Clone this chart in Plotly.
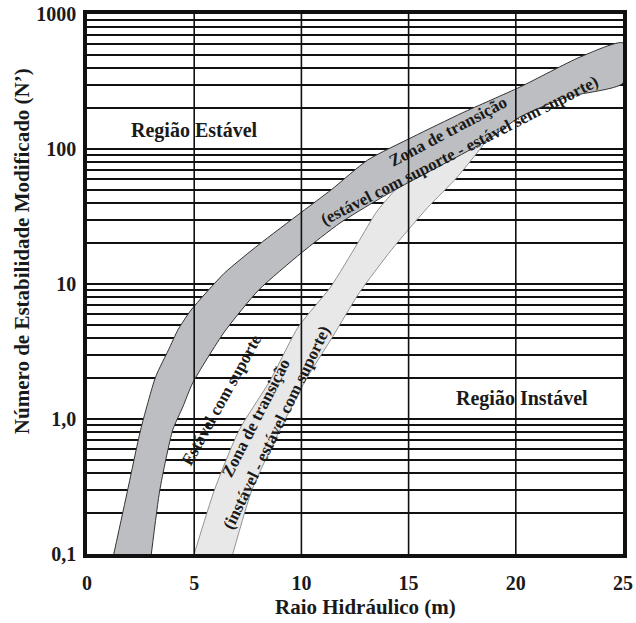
import math
import plotly.graph_objects as go

# Eixos
x_ticks = [0, 5, 10, 15, 20, 25]
y_ticks = [0.1, 1, 10, 100, 1000]
y_ticktext = ["0,1", "1,0", "10", "100", "1000"]
y_minor = [d * m for d in [0.1, 1, 10, 100] for m in range(2, 10)]

# Zona de transição (estável com suporte - estável sem suporte): limite superior e inferior
dark_upper_x = [1.25, 1.9, 2.5, 3.2, 3.8, 4.25, 4.85, 6.4, 8.0, 10.0, 11.4, 13.1, 15.2, 17.5, 20.2, 23.0, 25.0]
dark_upper_y = [0.1, 0.3, 0.83, 2.05, 3.25, 4.6, 6.4, 12, 19.5, 34, 50, 83, 123, 185, 288, 480, 610]
dark_lower_x = [3.0, 3.4, 4.0, 4.47, 4.93, 6.4, 8.0, 10.0, 11.8, 13.55, 14.95, 16.8, 18.7, 20.2, 22.4, 25.0]
dark_lower_y = [0.1, 0.3, 0.83, 1.23, 1.85, 4.4, 9.0, 17, 28.3, 42, 56, 80, 117, 173, 243, 308]

# Zona de transição (instável - estável com suporte)
light_left_x = [5.0, 5.95, 7.1, 8.55, 9.85, 11.36, 12.62, 13.55, 15.0]
light_left_y = [0.1, 0.3, 0.83, 1.94, 4.8, 9.5, 20, 35, 62]
light_right_x = [6.8, 7.7, 9.0, 10.2, 11.45, 12.7, 14.2, 15.9, 17.27, 18.8]
light_right_y = [0.1, 0.3, 0.83, 1.94, 4.05, 8.6, 17.9, 37, 62, 130]

FONT = "Liberation Serif"
INK = "#1a1a1a"

fig = go.Figure()

# faixa clara (por baixo)
fig.add_trace(go.Scatter(
    x=light_left_x + light_right_x[::-1],
    y=light_left_y + light_right_y[::-1],
    fill="toself", fillcolor="#e8e8e8", mode="lines",
    line=dict(color="#7a7a7a", width=0.8, shape="spline", smoothing=0.6),
    hoverinfo="skip", showlegend=False,
))

# faixa escura
fig.add_trace(go.Scatter(
    x=dark_upper_x + dark_lower_x[::-1],
    y=dark_upper_y + dark_lower_y[::-1],
    fill="toself", fillcolor="#bdbec1", mode="lines",
    line=dict(color="#333333", width=1, shape="spline", smoothing=0.6),
    hoverinfo="skip", showlegend=False,
))

# linhas verticais por cima das faixas
for xv in x_ticks[1:-1]:
    fig.add_shape(type="line", x0=xv, x1=xv, y0=0, y1=1, xref="x", yref="paper",
                  line=dict(color="#111111", width=1.6), layer="above")


def ann(text, x, y, angle=0, size=17):
    fig.add_annotation(text=text, x=x, y=math.log10(y), xref="x", yref="y",
                       showarrow=False, textangle=angle,
                       font=dict(family=FONT, size=size, color=INK, weight="bold"))


ann("Região Estável", 5.0, 138, size=20)
ann("Região Instável", 20.3, 1.43, size=20)
ann("Estável com suporte", 6.25, 1.38, angle=-61)
ann("Zona de transição", 7.9, 1.02, angle=-63)
ann("(instável - estável com suporte)", 8.85, 0.86, angle=-64)
ann("Zona de transição", 16.85, 134, angle=-28)
ann("(estável com suporte - estável sem suporte)", 17.37, 98, angle=-27)

# títulos dos eixos
fig.add_annotation(text="Raio Hidráulico (m)", x=0.519, y=-0.098, xref="paper", yref="paper",
                   xanchor="center", yanchor="middle", showarrow=False,
                   font=dict(family=FONT, size=21, color=INK, weight="bold"))
fig.add_annotation(text="Número de Estabilidade Modificado (N’)", x=-0.121, y=0.561,
                   xref="paper", yref="paper", xanchor="center", yanchor="middle",
                   showarrow=False, textangle=-90,
                   font=dict(family=FONT, size=21, color=INK, weight="bold"))

fig.update_layout(
    width=636, height=623,
    margin=dict(l=87, r=13, t=14, b=69),
    paper_bgcolor="white", plot_bgcolor="white",
    showlegend=False,
    xaxis=dict(
        range=[0, 25], tickvals=x_ticks, showgrid=False, zeroline=False,
        showline=True, mirror=True, linecolor="#111111", linewidth=3.5,
        ticks="", ticklabelstandoff=8, automargin=False,
        tickfont=dict(family=FONT, size=20, color=INK, weight="bold"),
    ),
    yaxis=dict(
        type="log", range=[-1, 3], tickvals=y_ticks, ticktext=y_ticktext,
        showgrid=True, gridcolor="#111111", gridwidth=2.4, zeroline=False,
        showline=True, mirror=True, linecolor="#111111", linewidth=3.5,
        ticks="", ticklabelstandoff=3, automargin=False,
        tickfont=dict(family=FONT, size=20, color=INK, weight="bold"),
        minor=dict(tickvals=y_minor, showgrid=True, gridcolor="#111111", gridwidth=1.9, ticks=""),
    ),
)

fig.write_html("out.html", config={"displayModeBar": False},
               post_script="document.body.style.margin='0px';")
